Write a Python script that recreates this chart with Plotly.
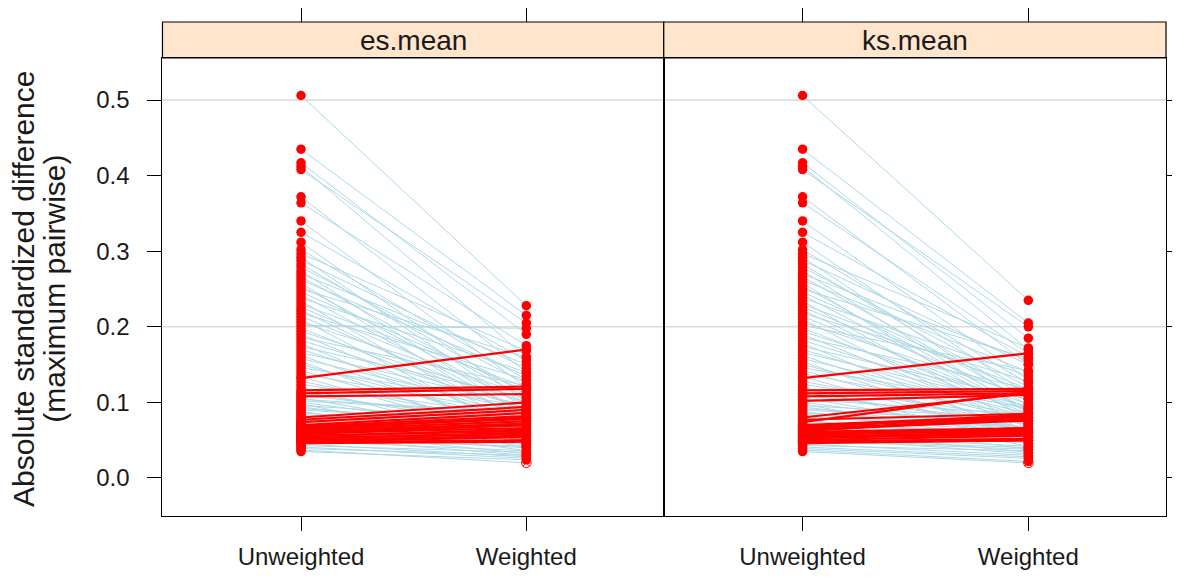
import plotly.graph_objects as go

# ---------------- data ----------------
panels = ["es.mean", "ks.mean"]
groups = ["Unweighted", "Weighted"]
y_ticks = [0.0, 0.1, 0.2, 0.3, 0.4, 0.5]
ref_lines = [0.2, 0.5]

unweighted = [
    0.506, 0.435, 0.417, 0.412, 0.408, 0.372, 0.364, 0.340, 0.325, 0.312,
    0.302, 0.297, 0.292, 0.288, 0.283, 0.279, 0.274, 0.270, 0.266, 0.262,
    0.258, 0.254, 0.250, 0.246, 0.242, 0.238, 0.234, 0.230, 0.226, 0.222,
    0.218, 0.214, 0.210, 0.206, 0.202, 0.198, 0.194, 0.190, 0.186, 0.182,
    0.178, 0.174, 0.170, 0.166, 0.162, 0.158, 0.154, 0.150, 0.146, 0.142,
    0.138, 0.134, 0.132, 0.128, 0.124, 0.120, 0.116, 0.114, 0.112, 0.110,
    0.108, 0.106, 0.104, 0.102, 0.100, 0.098, 0.096, 0.094, 0.092, 0.090,
    0.088, 0.086, 0.084, 0.082, 0.080, 0.078, 0.077, 0.075, 0.074, 0.072,
    0.071, 0.070, 0.069, 0.068, 0.067, 0.066, 0.065, 0.064, 0.063, 0.062,
    0.061, 0.060, 0.059, 0.058, 0.057, 0.056, 0.055, 0.054, 0.053, 0.052,
    0.051, 0.050, 0.049, 0.048, 0.047, 0.046, 0.045, 0.043, 0.041, 0.039,
    0.037, 0.035,
]

weighted_es = [
    0.228, 0.215, 0.190, 0.160, 0.205, 0.140, 0.175, 0.120, 0.155, 0.100,
    0.130, 0.168, 0.090, 0.145, 0.110, 0.125, 0.080, 0.150, 0.105, 0.135,
    0.070, 0.095, 0.160, 0.115, 0.085, 0.140, 0.062, 0.120, 0.100, 0.076,
    0.130, 0.090, 0.055, 0.110, 0.198, 0.082, 0.100, 0.066, 0.122, 0.092,
    0.052, 0.106, 0.078, 0.096, 0.060, 0.088, 0.046, 0.072, 0.094, 0.058,
    0.084, 0.050, 0.170, 0.068, 0.080, 0.044, 0.121, 0.064, 0.118, 0.074,
    0.111, 0.054, 0.086, 0.086, 0.062, 0.040, 0.076, 0.056, 0.070, 0.072,
    0.048, 0.066, 0.064, 0.058, 0.100, 0.036, 0.094, 0.052, 0.090, 0.058,
    0.044, 0.086, 0.060, 0.082, 0.078, 0.050, 0.080, 0.075, 0.032, 0.072,
    0.070, 0.046, 0.066, 0.070, 0.040, 0.062, 0.064, 0.030, 0.058, 0.060,
    0.042, 0.056, 0.036, 0.054, 0.050, 0.048, 0.028, 0.034, 0.026, 0.030,
    0.020, 0.024,
]

weighted_ks = [
    0.235, 0.205, 0.185, 0.170, 0.200, 0.150, 0.165, 0.130, 0.160, 0.110,
    0.125, 0.172, 0.095, 0.150, 0.105, 0.120, 0.085, 0.155, 0.100, 0.140,
    0.075, 0.090, 0.158, 0.112, 0.088, 0.135, 0.065, 0.118, 0.105, 0.080,
    0.128, 0.092, 0.060, 0.108, 0.142, 0.085, 0.098, 0.070, 0.118, 0.090,
    0.055, 0.104, 0.080, 0.095, 0.062, 0.085, 0.050, 0.075, 0.092, 0.060,
    0.082, 0.052, 0.165, 0.070, 0.078, 0.046, 0.118, 0.066, 0.115, 0.072,
    0.112, 0.056, 0.084, 0.110, 0.064, 0.042, 0.078, 0.058, 0.072, 0.074,
    0.050, 0.068, 0.066, 0.060, 0.112, 0.038, 0.085, 0.054, 0.114, 0.060,
    0.046, 0.082, 0.062, 0.080, 0.084, 0.052, 0.078, 0.076, 0.034, 0.080,
    0.066, 0.048, 0.064, 0.062, 0.042, 0.066, 0.060, 0.032, 0.058, 0.063,
    0.040, 0.056, 0.038, 0.052, 0.050, 0.050, 0.030, 0.036, 0.028, 0.026,
    0.022, 0.020,
]

# points drawn hollow (not significant)
open_weighted_es = [0.020]
open_weighted_ks = [0.020]

# ---------------- style ----------------
OFF = 8                      # page body margin of the browser
W, H = 1180 - OFF, 577 - OFF
FONT = "Liberation Sans, Arial, sans-serif"
TXT = "#1a1a1a"
BLUE = "#ADD8E6"
RED = "#FF0000"
STRIP = "#FFE5CC"

px = lambda v: (v - OFF) / W
py = lambda v: (H - (v - OFF)) / H
dom_y = [py(516), py(58)]
dom_x = [[px(163), px(666)], [px(666), px(1170)]]
strip_y = [py(58), py(22)]
x_range = [-0.615, 1.61]
y_range = [-0.0503, 0.5556]

fig = go.Figure()

series = {"es.mean": (weighted_es, open_weighted_es), "ks.mean": (weighted_ks, open_weighted_ks)}

for i, name in enumerate(panels):
    wts, opens = series[name]
    xa = "x" if i == 0 else "x2"
    ya = "y" if i == 0 else "y2"
    bx, by, rx, ry = [], [], [], []
    for u, w in zip(unweighted, wts):
        if w > u:
            rx += [groups[0], groups[1], None]
            ry += [u, w, None]
        else:
            bx += [groups[0], groups[1], None]
            by += [u, w, None]
    fig.add_trace(go.Scatter(x=bx, y=by, mode="lines", line=dict(color=BLUE, width=1),
                             xaxis=xa, yaxis=ya, showlegend=False, hoverinfo="skip"))
    fig.add_trace(go.Scatter(x=rx, y=ry, mode="lines", line=dict(color=RED, width=2.2),
                             xaxis=xa, yaxis=ya, showlegend=False, hoverinfo="skip"))
    fx = [groups[0]] * len(unweighted)
    fy = list(unweighted)
    ox, oy = [], []
    for w in wts:
        if w in opens:
            ox.append(groups[1]); oy.append(w)
        else:
            fx.append(groups[1]); fy.append(w)
    fig.add_trace(go.Scatter(x=fx, y=fy, mode="markers",
                             marker=dict(color=RED, size=9.5, line=dict(width=0)),
                             xaxis=xa, yaxis=ya, showlegend=False))
    fig.add_trace(go.Scatter(x=ox, y=oy, mode="markers",
                             marker=dict(color=RED, size=9.5, symbol="circle-x-open", line=dict(width=1)),
                             xaxis=xa, yaxis=ya, showlegend=False))
    # invisible trace so the top tick axis is drawn
    fig.add_trace(go.Scatter(x=[None], y=[None], xaxis=("x3" if i == 0 else "x4"), yaxis=ya,
                             showlegend=False, hoverinfo="skip"))

    # strip
    fig.add_shape(type="rect", xref="paper", yref="paper",
                  x0=dom_x[i][0], x1=dom_x[i][1], y0=strip_y[0], y1=strip_y[1],
                  fillcolor=STRIP, line=dict(color="black", width=1.2), layer="below")
    fig.add_annotation(x=(dom_x[i][0] + dom_x[i][1]) / 2, y=(strip_y[0] + strip_y[1]) / 2,
                       xref="paper", yref="paper", xanchor="center", yanchor="middle",
                       text=name, showarrow=False,
                       font=dict(family=FONT, size=28, color=TXT))
    for r in ref_lines:
        fig.add_shape(type="line", xref=("x domain" if i == 0 else "x2 domain"), yref=ya,
                      x0=0, x1=1, y0=r, y1=r, line=dict(color="#C8C8C8", width=1), layer="below")

common_x = dict(type="category", categoryorder="array", categoryarray=groups, range=x_range,
                showgrid=False, zeroline=False, showline=True, linecolor="black", linewidth=1.2,
                mirror=True, ticks="outside", ticklen=14, tickcolor="black", tickwidth=1,
                tickfont=dict(family=FONT, size=24, color=TXT), ticklabelstandoff=5)
top_x = dict(anchor="free", position=strip_y[1], side="top", type="linear",
             range=x_range, tickvals=[0, 1], ticks="outside", ticklen=14, tickcolor="black",
             showticklabels=False, showgrid=False, zeroline=False, showline=False)

fig.update_layout(
    width=W, height=H, autosize=False,
    margin=dict(l=0, r=0, t=0, b=0),
    paper_bgcolor="white", plot_bgcolor="white",
    xaxis=dict(domain=dom_x[0], anchor="y", **common_x),
    xaxis2=dict(domain=dom_x[1], anchor="y2", **common_x),
    xaxis3=dict(domain=dom_x[0], overlaying="x", **top_x),
    xaxis4=dict(domain=dom_x[1], overlaying="x2", **top_x),
    yaxis=dict(domain=dom_y, anchor="x", range=y_range, tickvals=y_ticks,
               ticktext=[f"{v:.1f}" for v in y_ticks],
               showgrid=False, zeroline=False, showline=True, linecolor="black", linewidth=1.2,
               mirror=True, ticks="outside", ticklen=14, tickcolor="black",
               tickfont=dict(family=FONT, size=24, color=TXT), ticklabelstandoff=13),
    yaxis2=dict(domain=dom_y, anchor="x2", range=y_range, tickvals=y_ticks, side="right",
                showticklabels=False,
                showgrid=False, zeroline=False, showline=True, linecolor="black", linewidth=1.2,
                mirror=True, ticks="outside", ticklen=14, tickcolor="black"),
)

fig.add_annotation(x=px(23), y=py(289), xref="paper", yref="paper",
                   xanchor="center", yanchor="middle",
                   text="Absolute standardized difference", textangle=-90, showarrow=False,
                   font=dict(family=FONT, size=30, color=TXT))
fig.add_annotation(x=px(54), y=py(289), xref="paper", yref="paper",
                   xanchor="center", yanchor="middle",
                   text="(maximum pairwise)", textangle=-90, showarrow=False,
                   font=dict(family=FONT, size=30, color=TXT))

fig.write_html("out.html")
